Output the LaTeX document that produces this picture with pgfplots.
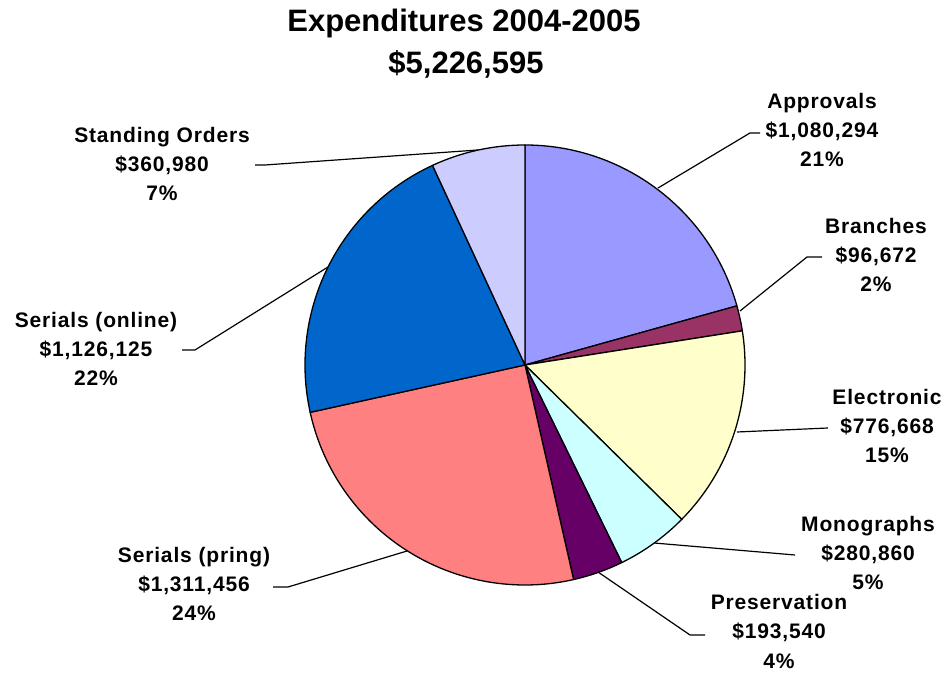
\documentclass[border=0pt]{standalone}
\usepackage{pgfplots}
\usepackage{pgfplotstable}
\pgfplotsset{compat=1.18}
\usepackage{fontspec}
\setmainfont{Liberation Sans}
\newfontfamily\labfont{Liberation Sans}[LetterSpace=4]
\definecolor{cA}{HTML}{9999FF}
\definecolor{cB}{HTML}{993366}
\definecolor{cC}{HTML}{FFFFCC}
\definecolor{cD}{HTML}{CCFFFF}
\definecolor{cE}{HTML}{660066}
\definecolor{cF}{HTML}{FF8080}
\definecolor{cG}{HTML}{0066CC}
\definecolor{cH}{HTML}{CCCCFF}
% Expenditures 2004-2005 (dollars), clockwise from 12 o'clock
\pgfplotstableread{
value
1080294
96672
776668
280860
193540
1311456
1126125
360980
}\pietable
\newcommand\sector[3]{%
  \filldraw[fill=#3,draw=black,line width=1.3pt,line join=round]
   (axis cs:525,308) --
   (axis cs:{525+220*cos(\csname ang#1\endcsname)},{308+220*sin(\csname ang#1\endcsname)})
   arc[start angle=\csname ang#1\endcsname, end angle=\csname ang#2\endcsname, radius=220bp] -- cycle;}
\newcommand\lab[5]{%
  \node[anchor=base,inner sep=0pt,font=\labfont\fontsize{21bp}{25bp}\selectfont\bfseries] at (axis cs:#1,#2) {#3};
  \node[anchor=base,inner sep=0pt,font=\labfont\fontsize{21bp}{25bp}\selectfont\bfseries] at (axis cs:#1,#2-29) {#4};
  \node[anchor=base,inner sep=0pt,font=\labfont\fontsize{21bp}{25bp}\selectfont\bfseries] at (axis cs:#1,#2-58) {#5};}
\begin{document}
\begin{tikzpicture}
\gdef\tot{0}
\foreach \i in {0,...,7}{%
  \pgfplotstablegetelem{\i}{value}\of\pietable
  \pgfkeys{/pgf/fpu=true,/pgf/fpu/output format=fixed}%
  \pgfmathsetmacro\t{\tot+\pgfplotsretval}%
  \xdef\tot{\t}}
\gdef\cur{90}
\expandafter\xdef\csname ang0\endcsname{90}
\foreach \i in {0,...,7}{%
  \pgfplotstablegetelem{\i}{value}\of\pietable
  \pgfkeys{/pgf/fpu=true,/pgf/fpu/output format=fixed}%
  \pgfmathsetmacro\nxt{\cur-360*\pgfplotsretval/\tot}%
  \xdef\cur{\nxt}%
  \expandafter\xdef\csname ang\the\numexpr\i+1\relax\endcsname{\nxt}}
\begin{axis}[
  scale only axis, width=944bp, height=673bp,
  xmin=0, xmax=944, ymin=0, ymax=673,
  hide axis, clip=false]
\path (axis cs:0,0) rectangle (axis cs:944,673);
\sector{0}{1}{cA}
\sector{1}{2}{cB}
\sector{2}{3}{cC}
\sector{3}{4}{cD}
\sector{4}{5}{cE}
\sector{5}{6}{cF}
\sector{6}{7}{cG}
\sector{7}{8}{cH}
% leader lines
\begin{scope}[line width=1.2pt]
\draw (axis cs:760,540) -- (axis cs:750,540) -- (axis cs:658,485);
\draw (axis cs:822,416) -- (axis cs:807,416) -- (axis cs:740,362);
\draw (axis cs:828,245) -- (axis cs:737,241);
\draw (axis cs:795,118) -- (axis cs:654,130);
\draw (axis cs:705,38) -- (axis cs:690,38) -- (axis cs:598,101);
\draw (axis cs:273,86) -- (axis cs:288,86) -- (axis cs:407,122);
\draw (axis cs:182,323) -- (axis cs:195,323) -- (axis cs:328,406);
\draw (axis cs:255,508) -- (axis cs:265,508) -- (axis cs:478,523);
\end{scope}
% title
\node[anchor=base,inner sep=0pt,font=\fontsize{31bp}{36bp}\selectfont\bfseries] at (axis cs:464,641) {Expenditures 2004-2005};
\node[anchor=base,inner sep=0pt,font=\fontsize{31bp}{36bp}\selectfont\bfseries] at (axis cs:466,599) {\$5,226,595};
% labels
\lab{822}{564}{Approvals}{\$1,080,294}{21\%}
\lab{876}{439}{Branches}{\$96,672}{2\%}
\lab{887}{268}{Electronic}{\$776,668}{15\%}
\lab{868}{141}{Monographs}{\$280,860}{5\%}
\lab{779}{63}{Preservation}{\$193,540}{4\%}
\lab{194}{110}{Serials (pring)}{\$1,311,456}{24\%}
\lab{96}{345}{Serials (online)}{\$1,126,125}{22\%}
\lab{162}{530}{Standing Orders}{\$360,980}{7\%}
\end{axis}
\end{tikzpicture}
\end{document}
